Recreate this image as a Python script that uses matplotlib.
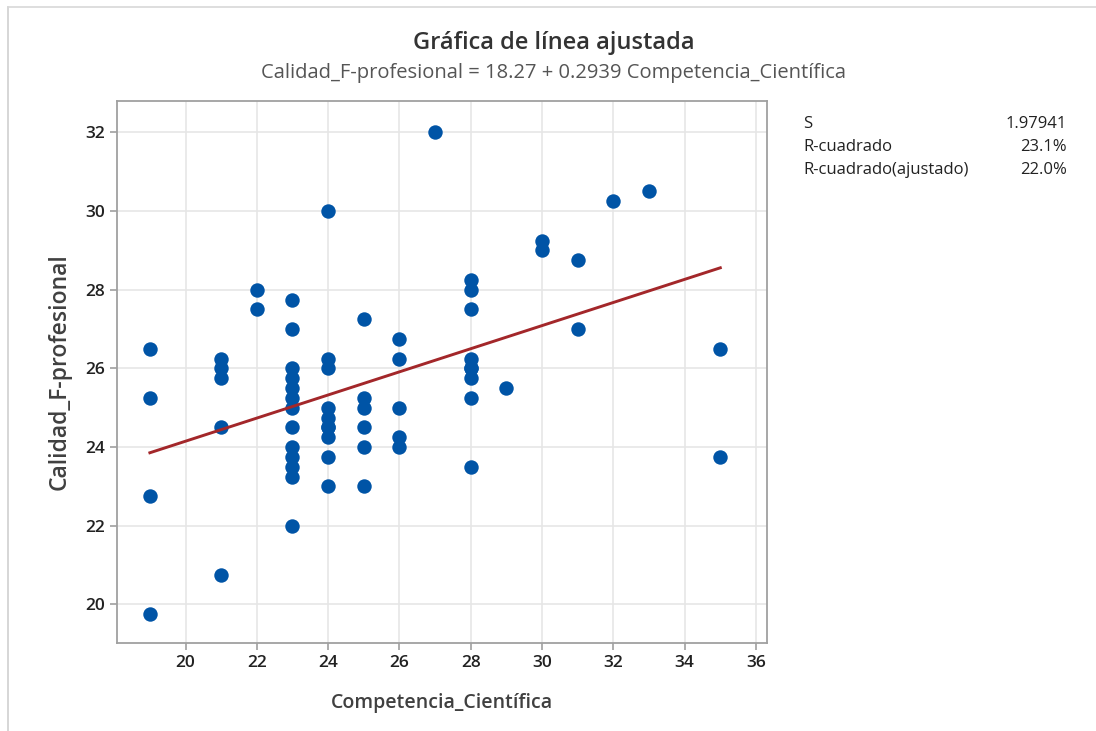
import numpy as np
import matplotlib.pyplot as plt
from matplotlib.lines import Line2D

plt.rcParams['font.family'] = ['Open Sans', 'DejaVu Sans']

# datos: Competencia_Científica (x) y Calidad_F-profesional (y)
comp_x = [19, 19, 19, 19,
          21, 21, 21, 21, 21,
          22, 22,
          23, 23, 23, 23, 23, 23, 23, 23, 23, 23, 23, 23, 23,
          24, 24, 24, 24, 24, 24, 24, 24, 24, 24,
          25, 25, 25, 25, 25, 25,
          26, 26, 26, 26, 26,
          27,
          28, 28, 28, 28, 28, 28, 28, 28, 28,
          29,
          30, 30,
          31, 31,
          32,
          33,
          35, 35]
calidad_y = [26.5, 25.25, 22.75, 19.75,
             26.25, 26.0, 25.75, 24.5, 20.75,
             28.0, 27.5,
             27.75, 27.0, 26.0, 25.75, 25.5, 25.25, 25.0, 24.5, 24.0, 23.75, 23.5, 23.25, 22.0,
             30.0, 26.25, 26.0, 25.0, 24.75, 24.5, 24.25, 23.75, 23.0, 24.5,
             27.25, 25.25, 25.0, 24.5, 24.0, 23.0,
             26.75, 26.25, 25.0, 24.25, 24.0,
             32.0,
             28.25, 28.0, 27.5, 26.25, 26.0, 25.75, 25.25, 23.5, 26.0,
             25.5,
             29.25, 29.0,
             28.75, 27.0,
             30.25,
             30.5,
             26.5, 23.75]

b0, b1 = 18.27, 0.2939
stat_names = ['S', 'R-cuadrado', 'R-cuadrado(ajustado)']
stat_vals = ['1.97941', '23.1%', '22.0%']

fig = plt.figure(figsize=(10.96, 7.31), dpi=100)
ax = fig.add_axes([0.1065, 0.1205, 0.593, 0.7415])

ax.scatter(comp_x, calidad_y, s=108, color='#0054a6', zorder=3, linewidths=0)
xf = np.array([min(comp_x), max(comp_x)])
ax.plot(xf, b0 + b1 * xf, color='#a3272a', lw=2.1, zorder=4)

ax.set_xlim(18.07, 36.3)
ax.set_ylim(19.02, 32.8)
ax.set_xticks(np.arange(20, 37, 2))
ax.set_yticks(np.arange(20, 33, 2))
ax.grid(True, color='#e6e6e6', lw=1.2, zorder=0)
ax.set_axisbelow(True)
for sp in ax.spines.values():
    sp.set_color('#a0a0a0')
    sp.set_linewidth(1.3)
ax.tick_params(colors='#a0a0a0', labelcolor='#222222', length=5, width=1.2,
               labelsize=12.5)
for lab in ax.get_xticklabels() + ax.get_yticklabels():
    lab.set_fontweight('semibold')

ax.set_xlabel('Competencia_Científica', fontsize=14, color='#404040',
              fontweight='semibold', labelpad=16)
ax.set_ylabel('Calidad_F-profesional', fontsize=16.5, color='#404040',
              fontweight='semibold', labelpad=10)

fig.text(0.505, 0.941, 'Gráfica de línea ajustada', ha='center', va='center',
         fontsize=17, fontweight='semibold', color='#333333')
fig.text(0.505, 0.9, 'Calidad_F-profesional = 18.27 + 0.2939 Competencia_Científica',
         ha='center', va='center', fontsize=14.5, color='#555555')

for i, (n, v) in enumerate(zip(stat_names, stat_vals)):
    yy = 1 - (124 + i * 23) / 731
    fig.text(803 / 1096, yy, n, ha='left', va='center', fontsize=12, color='#222222')
    fig.text(1067 / 1096, yy, v, ha='right', va='center', fontsize=12, color='#222222')

# marco de la ventana
fig.add_artist(Line2D([8 / 1096, 8 / 1096], [0, 1 - 7 / 731], color='#d0d0d0', lw=1.2))
fig.add_artist(Line2D([8 / 1096, 1], [1 - 7 / 731, 1 - 7 / 731], color='#d8d8d8', lw=1.2))

fig.savefig('out.png', dpi=100)
